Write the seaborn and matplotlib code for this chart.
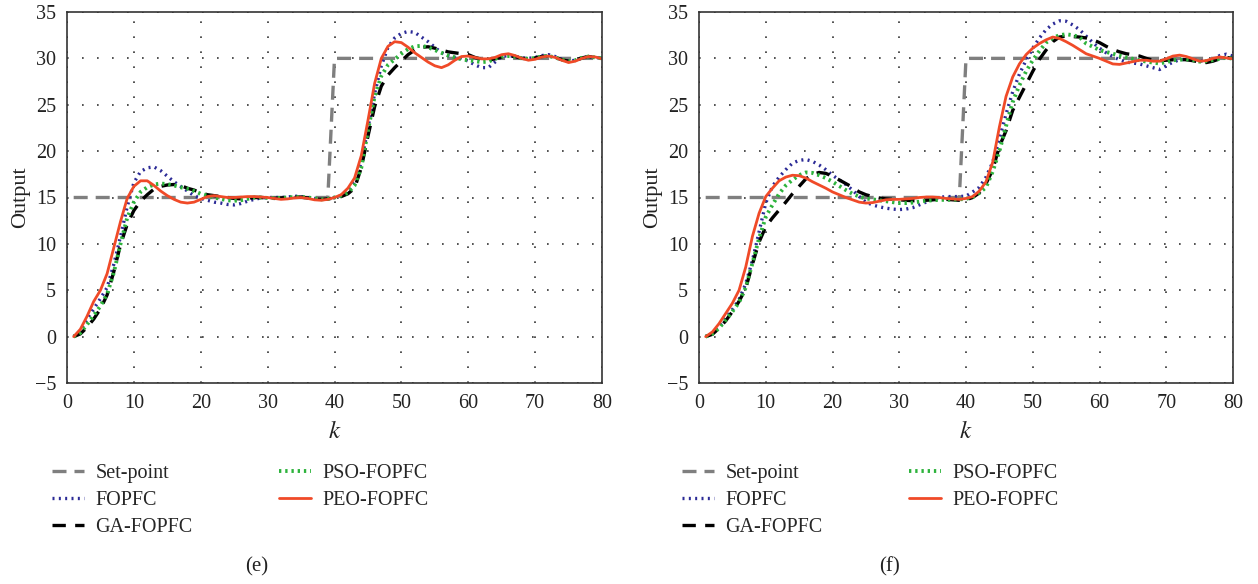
import numpy as np
import pandas as pd
import matplotlib
matplotlib.use("Agg")
import matplotlib.pyplot as plt
import seaborn as sns

sns.set_theme(style="white")
plt.rcParams['font.family'] = ['Liberation Serif', 'DejaVu Serif']
plt.rcParams['mathtext.fontset'] = 'stix'

k = list(range(1, 81))

setpoint = [15.0] * 39 + [30.0] * 41

# ---------------- panel (e) ----------------
e_fopfc = [0, 0.6, 1.9, 3.0, 4.1, 5.3, 7.8, 10.8, 14.0, 16.6,
           17.8, 18.2, 18.3, 17.9, 17.3, 16.7, 16.2, 15.7, 15.2, 14.9,
           14.7, 14.5, 14.4, 14.25, 14.2, 14.35, 14.6, 14.8, 14.95, 15.0,
           15.0, 15.0, 15.05, 15.15, 15.1, 15.0, 14.9, 14.8, 14.85, 15.0,
           15.2, 15.7, 16.6, 18.8, 22.5, 26.2, 29.2, 31.2, 32.2, 32.7,
           32.9, 32.8, 32.3, 31.8, 31.2, 30.6, 30.3, 30.1, 30.0, 29.7,
           29.3, 29.0, 29.0, 29.6, 30.2, 30.3, 30.2, 30.05, 30.0, 30.1,
           30.3, 30.4, 30.2, 29.9, 29.7, 29.8, 30.0, 30.2, 30.1, 30.0]
e_ga = [0, 0.3, 1.0, 1.9, 3.0, 4.5, 7.0, 9.9, 12.1, 13.6,
        14.6, 15.3, 15.9, 16.2, 16.35, 16.4, 16.3, 16.0, 15.8, 15.5,
        15.3, 15.2, 15.1, 15.0, 14.9, 14.85, 14.9, 15.0, 15.0, 14.95,
        14.9, 14.95, 15.0, 15.05, 15.05, 14.95, 14.85, 14.8, 14.85, 14.95,
        15.1, 15.4, 16.0, 18.2, 21.6, 24.8, 27.0, 28.2, 29.0, 29.7,
        30.4, 30.9, 31.2, 31.25, 31.1, 30.9, 30.7, 30.6, 30.5, 30.4,
        30.1, 29.9, 29.8, 29.95, 30.15, 30.25, 30.2, 30.0, 29.95, 30.05,
        30.2, 30.25, 30.1, 29.85, 29.7, 29.8, 30.05, 30.2, 30.1, 30.0]
e_pso = [0, 0.4, 1.3, 2.3, 3.3, 4.6, 6.9, 10.0, 12.8, 14.5,
         15.6, 16.1, 16.4, 16.5, 16.45, 16.3, 16.1, 15.95, 15.7, 15.4,
         15.2, 15.0, 14.85, 14.7, 14.65, 14.7, 14.85, 15.0, 15.0, 14.95,
         14.95, 14.95, 15.0, 15.05, 15.05, 15.0, 14.9, 14.8, 14.85, 15.0,
         15.2, 15.5, 16.3, 18.2, 22.2, 25.9, 28.1, 29.3, 29.9, 30.5,
         31.0, 31.3, 31.35, 31.2, 30.9, 30.6, 30.3, 30.1, 29.9, 29.8,
         29.7, 29.6, 29.65, 29.95, 30.2, 30.25, 30.2, 30.0, 29.95, 30.05,
         30.2, 30.25, 30.1, 29.85, 29.7, 29.8, 30.05, 30.2, 30.1, 30.0]
e_peo = [0, 0.8, 2.2, 3.8, 5.0, 6.8, 9.6, 12.4, 14.9, 16.2,
         16.8, 16.8, 16.3, 15.7, 15.2, 14.8, 14.5, 14.4, 14.5, 14.8,
         15.1, 15.2, 15.1, 15.0, 15.0, 15.05, 15.1, 15.1, 15.05, 15.0,
         14.9, 14.8, 14.85, 14.95, 15.0, 14.9, 14.75, 14.7, 14.8, 15.0,
         15.3, 16.0, 17.1, 19.5, 23.3, 27.3, 30.0, 31.3, 31.8, 31.7,
         31.2, 30.6, 30.1, 29.6, 29.2, 29.0, 29.3, 29.8, 30.2, 30.25,
         30.1, 29.95, 29.95, 30.1, 30.4, 30.5, 30.3, 30.0, 29.8, 29.9,
         30.15, 30.25, 30.1, 29.8, 29.55, 29.7, 30.0, 30.2, 30.15, 29.95]

# ---------------- panel (f) ----------------
f_fopfc = [0, 0.4, 1.1, 2.0, 2.9, 4.0, 5.7, 8.2, 11.3, 14.4,
           16.2, 17.2, 18.0, 18.7, 19.0, 19.1, 18.9, 18.5, 18.0, 17.4,
           16.9, 16.4, 15.8, 15.1, 14.5, 14.2, 14.0, 13.85, 13.75, 13.7,
           13.75, 13.9, 14.2, 14.5, 14.8, 15.0, 15.1, 15.1, 15.1, 15.15,
           15.6, 16.1, 17.2, 18.8, 21.3, 24.0, 26.4, 28.3, 29.8, 31.1,
           32.2, 33.1, 33.7, 34.05, 34.0, 33.6, 33.1, 32.4, 31.7, 31.1,
           30.6, 30.2, 29.85, 29.6, 29.5, 29.4, 29.2, 29.0, 28.8, 29.2,
           29.6, 29.85, 29.9, 29.85, 29.75, 29.65, 29.9, 30.3, 30.45, 30.25]
f_ga = [0, 0.25, 0.9, 1.7, 2.7, 3.8, 5.2, 7.8, 10.2, 11.85,
        12.8, 13.65, 14.5, 15.4, 16.2, 17.0, 17.5, 17.7, 17.6, 17.3,
        16.9, 16.5, 16.1, 15.6, 15.3, 15.1, 14.95, 14.85, 14.8, 14.75,
        14.7, 14.65, 14.65, 14.7, 14.75, 14.8, 14.8, 14.75, 14.7, 14.75,
        15.0, 15.5, 16.5, 18.0, 20.5, 22.2, 24.4, 25.8, 27.2, 28.6,
        29.9, 30.9, 31.8, 32.3, 32.4, 32.35, 32.3, 32.2, 32.0, 31.7,
        31.3, 30.95, 30.7, 30.5, 30.4, 30.25, 30.0, 29.8, 29.75, 29.8,
        29.85, 29.9, 29.85, 29.75, 29.6, 29.55, 29.7, 29.95, 30.1, 30.0]
f_pso = [0, 0.3, 0.9, 1.8, 2.7, 3.7, 5.3, 7.9, 10.6, 12.9,
         14.2, 15.4, 16.3, 16.9, 17.4, 17.7, 17.65, 17.4, 17.1, 16.7,
         16.25, 15.8, 15.4, 15.1, 14.9, 14.8, 14.7, 14.6, 14.5, 14.4,
         14.4, 14.45, 14.55, 14.65, 14.7, 14.75, 14.75, 14.75, 14.8, 14.85,
         15.05, 15.5, 16.1, 17.8, 20.0, 22.7, 25.3, 27.1, 28.6, 29.8,
         30.8, 31.7, 32.2, 32.5, 32.6, 32.5, 32.3, 31.6, 31.25, 30.9,
         30.7, 30.5, 30.3, 30.1, 29.95, 29.8, 29.65, 29.55, 29.45, 29.6,
         29.8, 29.85, 29.9, 29.8, 29.65, 29.7, 29.8, 29.95, 30.1, 29.95]
f_peo = [0, 0.5, 1.4, 2.5, 3.6, 5.0, 7.5, 10.8, 13.3, 15.1,
         16.0, 16.8, 17.2, 17.4, 17.35, 17.1, 16.7, 16.35, 16.0, 15.6,
         15.3, 15.0, 14.75, 14.5, 14.4, 14.45, 14.6, 14.75, 14.8, 14.8,
         14.85, 14.9, 15.0, 15.05, 15.05, 15.0, 14.9, 14.85, 14.8, 14.9,
         15.1, 15.7, 16.7, 18.8, 22.6, 25.9, 28.0, 29.4, 30.4, 31.1,
         31.6, 32.0, 32.3, 32.15, 31.8, 31.4, 30.95, 30.5, 30.25, 30.0,
         29.7, 29.4, 29.35, 29.5, 29.65, 29.8, 29.8, 29.7, 29.7, 29.95,
         30.25, 30.35, 30.2, 29.95, 29.7, 29.75, 30.0, 30.15, 30.05, 29.95]

labels = ["Set-point", "FOPFC", "GA-FOPFC", "PSO-FOPFC", "PEO-FOPFC"]
colors = ["#7f7f7f", "#2b2a96", "#000000", "#2db33c", "#f04a28"]
styles = [(0, (4.2, 2.4)), (0, (0.6, 1.3)), (0, (4.0, 2.8)), (0, (0.6, 1.0)), "-"]
widths = [2.4, 2.4, 2.4, 2.8, 2.0]

panels = [
    ([setpoint, e_fopfc, e_ga, e_pso, e_peo], [67, 602], "(e)", 57, 257),
    ([setpoint, f_fopfc, f_ga, f_pso, f_peo], [699, 1233], "(f)", 687, 889),
]

W, H = 1258, 584
fig = plt.figure(figsize=(W / 100, H / 100), dpi=100)

for series, (x0, x1), tag, legx, tagx in panels:
    ax = fig.add_axes([x0 / W, (H - 383) / H, (x1 - x0) / W, 371 / H])
    for vals, lab, c, ls, lw in zip(series, labels, colors, styles, widths):
        df = pd.DataFrame({"k": k, "v": vals})
        sns.lineplot(data=df, x="k", y="v", ax=ax, color=c, linestyle=ls,
                     linewidth=lw, label=lab)
    ax.set_xlim(0, 80)
    ax.set_ylim(-5, 35)
    ax.set_xticks(range(0, 81, 10))
    ax.set_yticks(range(-5, 36, 5))
    ax.grid(True, color="#333333", linestyle=(0, (1, 8)), linewidth=1.2)
    for s in ax.spines.values():
        s.set_color("#333333")
        s.set_linewidth(1.2)
    ax.tick_params(axis="both", labelsize=14.5, colors="#222222", direction="in",
                   length=3, width=0.8)
    ax.tick_params(axis="x", pad=8)
    ax.tick_params(axis="y", pad=8)
    ax.set_xlabel("$k$", fontsize=18, color="#222222", labelpad=6)
    ax.set_ylabel("Output", fontsize=16, color="#222222", labelpad=3)
    ax.legend_.remove()
    handles, labs = ax.get_legend_handles_labels()
    fig.legend(handles, labs, loc="upper left",
               bbox_to_anchor=(legx / W - 0.004, (H - 464) / H),
               ncol=2, frameon=False, fontsize=14.5, handlelength=1.6,
               handletextpad=0.55, columnspacing=4.3, labelspacing=0.40,
               borderpad=0, borderaxespad=0)
    fig.text(tagx / W, (H - 567) / H, tag, ha="center", va="center",
             fontsize=15, color="#222222")

fig.savefig("out.png", dpi=100)
